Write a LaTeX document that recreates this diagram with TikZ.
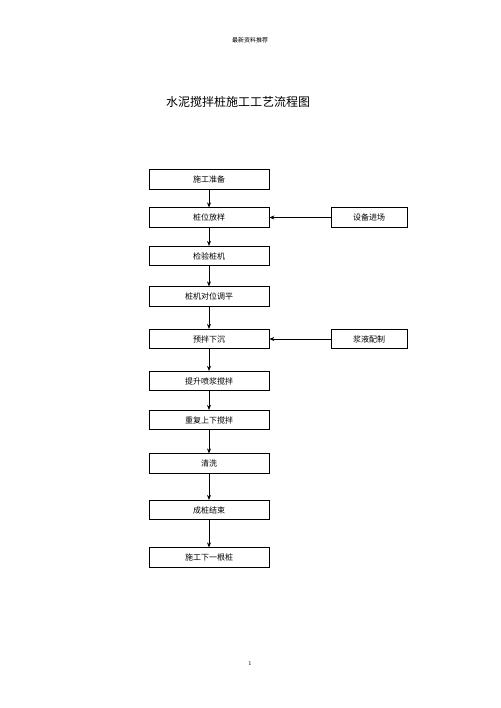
\documentclass[tikz,border=0pt]{standalone}
\usepackage{fontspec}
\newfontfamily\cjk{Noto Sans CJK SC}
\usetikzlibrary{arrows.meta, positioning}
\tikzset{
  stepbox/.style={draw, line width=0.7pt, minimum width=120pt,
                  minimum height=19.5pt, inner sep=0pt},
  sidebox/.style={stepbox, minimum width=76pt},
}

\begin{document}
\begin{tikzpicture}[>={Stealth[length=5pt,width=4pt]}, x=1pt, y=-1pt,
          line width=0.7pt, font=\cjk\fontsize{8}{10}\selectfont]
        \useasboundingbox (0,0) rectangle (500,708);
        \node[font=\cjk\fontsize{6}{7}\selectfont] (hdr) at (250,40) {最新资料推荐};
        \node[font=\cjk\fontsize{12}{14}\selectfont] (ttl) at (238,102) {水泥搅拌桩施工工艺流程图};
        % main chain
        \node[stepbox] (s1) at (209,179.5) {施工准备};
        \node[stepbox] (s2) at (209,217.5) {桩位放样};
        \node[stepbox] (s3) at (209,256) {检验桩机};
        \node[stepbox] (s4) at (209,296.5) {桩机对位调平};
        \node[stepbox] (s5) at (209,339) {预拌下沉};
        \node[stepbox] (s6) at (209,381) {提升喷浆搅拌};
        \node[stepbox] (s7) at (209,420) {重复上下搅拌};
        \node[stepbox] (s8) at (209,463.5) {清洗};
        \node[stepbox] (s9) at (209,510) {成桩结束};
        \node[stepbox] (s10) at (209,557.5) {施工下一根桩};
        % side inputs
        \node[sidebox] (eq) at (369,217.5) {设备进场};
        \node[sidebox] (sl) at (369,339) {浆液配制};
        \node[font=\fontsize{6}{7}\selectfont] (pg) at (250,663) {1};
        \foreach \i [evaluate=\i as \j using int(\i+1)] in {1,...,9}
          \draw[->] (s\i) -- (s\j);
        \draw[->] (eq) -- (s2);
        \draw[->] (sl) -- (s5);
      \end{tikzpicture}
\end{document}
